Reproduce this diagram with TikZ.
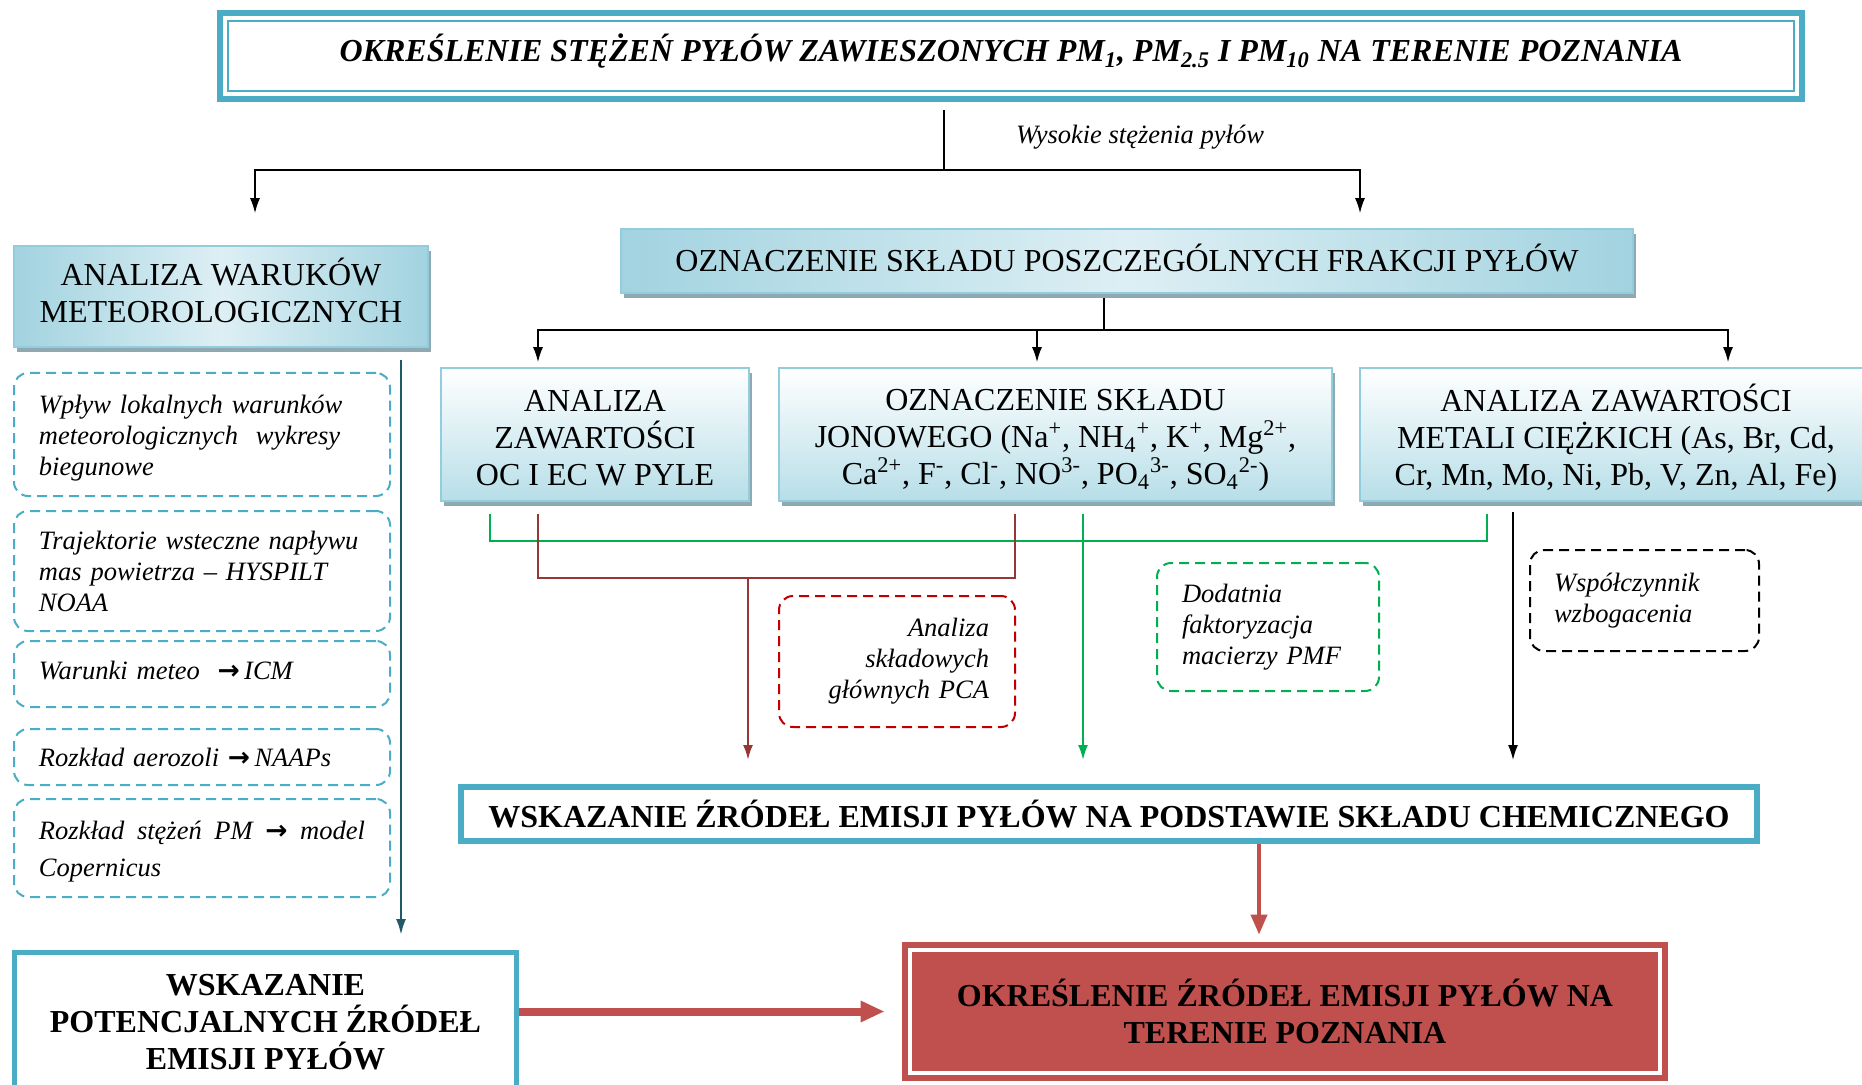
\documentclass[tikz,border=0pt]{standalone}
\usepackage{fontspec}
\setmainfont{Liberation Serif}
\newfontfamily\arrowfont{DejaVu Sans}
\usetikzlibrary{positioning}
\usetikzlibrary{arrows.meta, shadows}

\definecolor{aqua}{HTML}{4BACC6}
\definecolor{aqualine}{HTML}{93CDDD}
\definecolor{aqualight}{HTML}{DDEFF4}
\definecolor{aquamid}{HTML}{B7DEE8}
\definecolor{aquadark}{HTML}{A2D3E0}
\definecolor{shadowgray}{HTML}{8FA9B3}
\definecolor{petrol}{HTML}{215968}
\definecolor{brick}{HTML}{C0504D}
\definecolor{maroon}{HTML}{953735}
\definecolor{leaf}{HTML}{00B050}
\definecolor{scarlet}{HTML}{C00000}

\newcommand{\bigfs}{\fontsize{16}{18.5}\selectfont}
\newcommand{\notefs}{\fontsize{13.25}{15.5}\selectfont\itshape}
\newcommand{\tto}{{\arrowfont\bfseries\upshape →}}

\begin{document}
\begin{tikzpicture}[x=0.5pt, y=-0.5pt, every node/.style={align=center, inner sep=0pt},
  boxbase/.style={draw=aqualine, line width=0.8pt, font=\bigfs,
    general shadow={fill=shadowgray, shadow xshift=1.5pt, shadow yshift=-2.5pt}},
  gradbox/.style={boxbase, top color=white, bottom color=aquamid},
  sidebox/.style={boxbase, left color=aquadark, right color=aquadark, middle color=aqualight},
  framebox/.style={draw=aqua, line width=3pt, fill=white, font=\bigfs\bfseries},
  notebox/.style={draw, dash pattern=on 5pt off 3pt, line width=1pt, rounded corners=7pt, font=\notefs, align=left},
  metnote/.style={notebox, draw=aqua, minimum width=188pt, text width=163pt, inner xsep=12.5pt},
  link/.style={line width=0.8pt},
  arr/.style={link, -{Latex[length=7.5pt, width=5pt]}},
  grnlink/.style={leaf, line width=1pt},
  grnarr/.style={grnlink, -{Latex[length=7.5pt, width=5pt]}},
  marlink/.style={maroon, line width=1.1pt},
  mararr/.style={marlink, -{Latex[length=7.5pt, width=5pt]}},
  petrolarr/.style={petrol, line width=1.2pt, -{Latex[length=8pt, width=5pt]}},
  brickarr/.style={brick, line width=2pt, -{Triangle[length=10pt, width=8pt]}},
  bigarr/.style={brick, line width=4pt, -{Triangle[length=12pt, width=10pt]}}]

  \useasboundingbox (0,0) rectangle (1862,1085);
  \clip (0,0) rectangle (1862,1085);

  % Title
  \node[framebox, font=\bigfs\bfseries\itshape, minimum width=791pt, minimum height=43pt] (title) at (1011,56)
    {OKREŚLENIE STĘŻEŃ PYŁÓW ZAWIESZONYCH PM\textsubscript{1}, PM\textsubscript{2.5} I PM\textsubscript{10} NA TERENIE POZNANIA\rule[-8pt]{0pt}{0pt}};
  \draw[aqua, line width=0.8pt] ([shift={(11,11)}]title.north west) rectangle ([shift={(-11,-11)}]title.south east);
  \node[font=\notefs] (wysokie) at (1140,137) {Wysokie stężenia pyłów};

  % Second level
  \node[sidebox, minimum width=207pt, minimum height=50.5pt] (meteo) at (221,296.5) {ANALIZA WARUKÓW\\METEOROLOGICZNYCH\rule[-6pt]{0pt}{0pt}};
  \node[sidebox, minimum width=506pt, minimum height=32pt] (frakcje) at (1127,261) {OZNACZENIE SKŁADU POSZCZEGÓLNYCH FRAKCJI PYŁÓW\rule[-3.6pt]{0pt}{0pt}};

  % Analyses
  \node[gradbox, minimum width=154pt, minimum height=66.5pt] (ocec) at (595,434.5) {\rule{0pt}{14.2pt}ANALIZA\\ZAWARTOŚCI\\OC I EC W PYLE};
  \node[gradbox, minimum width=276.5pt, minimum height=66.5pt] (jony) at (1055.5,434.5)
    {\rule{0pt}{16.6pt}OZNACZENIE SKŁADU\\JONOWEGO (Na\textsuperscript{+}, NH\textsubscript{4}\textsuperscript{+}, K\textsuperscript{+}, Mg\textsuperscript{2+},\\Ca\textsuperscript{2+}, F\textsuperscript{-}, Cl\textsuperscript{-}, NO\textsuperscript{3-}, PO\textsubscript{4}\textsuperscript{3-}, SO\textsubscript{4}\textsuperscript{2-})};
  \node[gradbox, minimum width=256pt, minimum height=66.5pt] (metale) at (1616,434.5)
    {\rule{0pt}{17pt}ANALIZA ZAWARTOŚCI\\METALI CIĘŻKICH (As, Br, Cd,\\Cr, Mn, Mo, Ni, Pb, V, Zn, Al, Fe)};

  % Meteo methods
  \node[metnote, minimum height=61.5pt] (wplyw) at (202,434.5) {\rule{0pt}{12.5pt}Wpływ lokalnych warunków\\meteorologicznych\ \ wykresy\\biegunowe};
  \node[metnote, minimum height=60pt] (hysplit) at (202,571) {Trajektorie wsteczne napływu\\mas powietrza – HYSPILT\\NOAA};
  \node[metnote, minimum height=33pt] (icm) at (202,674) {Warunki meteo\ \ \tto\,ICM\rule[-4pt]{0pt}{0pt}};
  \node[metnote, minimum height=28pt] (naaps) at (202,757) {Rozkład aerozoli \tto\,NAAPs};
  \node[metnote, minimum height=49pt, font={\fontsize{13.25}{18.5}\selectfont\itshape}] (copernicus) at (202,848)
    {\rule{0pt}{12.5pt}Rozkład\hfill stężeń\hfill PM\hfill \tto\hfill model\\Copernicus};

  % Statistical methods
  \node[notebox, draw=scarlet, align=right, text width=92pt, inner xsep=13pt, minimum height=65.5pt] (pca) at (897,661.5) {Analiza\\składowych\\głównych PCA};
  \node[notebox, draw=leaf, text width=86pt, inner xsep=12.5pt, minimum height=64pt] (pmf) at (1268,627) {Dodatnia\\faktoryzacja\\macierzy PMF};
  \node[notebox, draw=black, text width=90.5pt, inner xsep=12pt, minimum height=50.5pt] (ef) at (1644.5,600.5) {Współczynnik\\wzbogacenia};

  % Results
  \node[framebox, minimum width=648pt, minimum height=27pt] (wsk) at (1109,814) {WSKAZANIE ŹRÓDEŁ EMISJI PYŁÓW NA PODSTAWIE SKŁADU CHEMICZNEGO};
  \node[framebox, line width=2.5pt, minimum width=251pt, minimum height=69.5pt] (potencjal) at (265.5,1022) {WSKAZANIE\\POTENCJALNYCH ŹRÓDEŁ\\EMISJI PYŁÓW};
  \node[fill=brick, minimum width=383pt, minimum height=69.5pt, font=\bigfs\bfseries] (zrodla) at (1285,1011.5) {OKREŚLENIE ŹRÓDEŁ EMISJI PYŁÓW NA\\TERENIE POZNANIA};
  \draw[white, line width=2pt] ([shift={(8,8)}]zrodla.north west) rectangle ([shift={(-8,-8)}]zrodla.south east);

  % Connectors
  \coordinate (split1) at (944,170);
  \coordinate (split2) at (1104,330);
  \coordinate (pcabus) at (748,578);
  \coordinate (pmfbus) at (1083,541);
  \coordinate (efline) at (1513,0);
  \coordinate (meteoline) at (401,0);
  \coordinate (chemline) at (1259,0);

  \draw[link] ([yshift=-4pt]title.south -| split1) -- (split1);
  \draw[arr, shorten >=16pt] (split1) -| ([xshift=17pt]meteo.north);
  \draw[arr, shorten >=7.5pt] (split1) -| ([xshift=116.5pt]frakcje.north);

  \draw[link] ([xshift=-11.5pt,yshift=-2pt]frakcje.south) -- (split2);
  \draw[arr, shorten >=2.5pt] (split2) -| ([xshift=-28.5pt]ocec.north);
  \draw[arr, shorten >=2.5pt] (split2) -| ([xshift=-9.25pt]jony.north);
  \draw[arr, shorten >=2.5pt] (split2) -| ([xshift=56pt]metale.north);

  \draw[grnlink] ([xshift=-52.5pt,yshift=-6pt]ocec.south) |- (pmfbus) -| ([xshift=-64.5pt,yshift=-6pt]metale.south);
  \draw[grnarr, shorten >=12pt] ([yshift=-6pt]jony.south -| pmfbus) -- (wsk.north -| pmfbus);
  \draw[marlink] ([xshift=-28.5pt,yshift=-6pt]ocec.south) |- (pcabus) -| ([xshift=-20.25pt,yshift=-6pt]jony.south);
  \draw[mararr, shorten >=12pt] (pcabus) -- (wsk.north -| pcabus);
  \draw[arr, shorten >=12pt] ([yshift=-5pt]metale.south -| efline) -- (wsk.north -| efline);

  \draw[petrolarr, shorten >=7.5pt] ([yshift=-6pt]meteo.south -| meteoline) -- (potencjal.north -| meteoline);
  \draw[brickarr, shorten >=3.5pt] (wsk.south -| chemline) -- (zrodla.north -| chemline);
  \draw[bigarr, shorten >=8.5pt] (potencjal.east |- zrodla.west) -- (zrodla.west);
\end{tikzpicture}
\end{document}
